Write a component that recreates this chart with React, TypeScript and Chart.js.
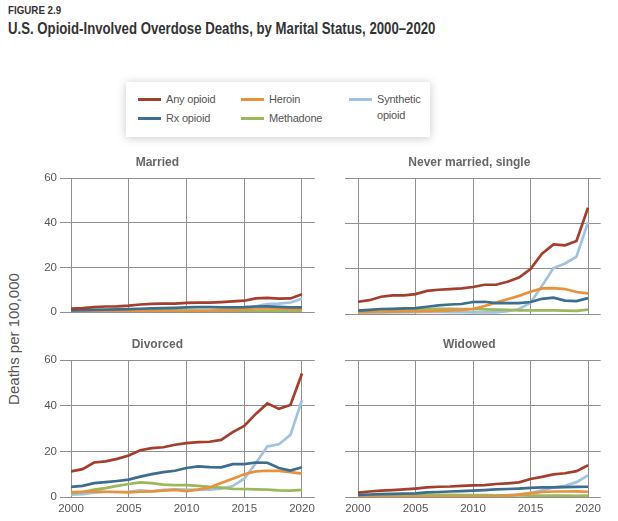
import React, { useEffect, useRef } from "react";
import { Chart, registerables } from "chart.js";

Chart.register(...registerables);

// ---------- data ----------
const years = [2000, 2001, 2002, 2003, 2004, 2005, 2006, 2007, 2008, 2009, 2010, 2011, 2012, 2013, 2014, 2015, 2016, 2017, 2018, 2019, 2020];
const xTickValues = [2000, 2005, 2010, 2015, 2020];
const yTickValues = [0, 20, 40, 60];

const seriesNames = ["Any opioid", "Rx opioid", "Heroin", "Methadone", "Synthetic opioid"];
const seriesColors = ["#a33f2c", "#3d6d8f", "#e9913d", "#9cb85c", "#a1c3e0"];

const panelTitles = ["Married", "Never married, single", "Divorced", "Widowed"];

// Married
const anyMarried = [1.6, 1.8, 2.2, 2.5, 2.6, 2.9, 3.4, 3.7, 3.8, 3.8, 4.1, 4.2, 4.2, 4.5, 4.8, 5.1, 6.1, 6.4, 6.0, 6.1, 8.0];
const rxMarried = [0.8, 0.9, 1.0, 1.1, 1.2, 1.3, 1.5, 1.7, 1.8, 1.9, 2.1, 2.2, 2.2, 2.1, 2.1, 2.2, 2.5, 2.6, 2.3, 2.1, 2.1];
const heroinMarried = [0.2, 0.2, 0.2, 0.2, 0.2, 0.2, 0.3, 0.3, 0.3, 0.3, 0.4, 0.5, 0.6, 0.8, 1.0, 1.3, 1.6, 1.6, 1.5, 1.3, 1.2];
const methadoneMarried = [0.2, 0.3, 0.4, 0.5, 0.6, 0.7, 0.8, 0.8, 0.8, 0.8, 0.7, 0.7, 0.6, 0.6, 0.6, 0.6, 0.5, 0.5, 0.5, 0.5, 0.6];
const syntheticMarried = [0.3, 0.3, 0.3, 0.4, 0.4, 0.4, 0.5, 0.4, 0.4, 0.4, 0.4, 0.4, 0.4, 0.5, 0.7, 1.5, 2.6, 3.6, 3.8, 4.3, 6.0];

// Never married, single
const anyNever = [5.4, 6.1, 7.6, 8.2, 8.2, 8.8, 10.2, 10.7, 11.0, 11.3, 11.9, 12.9, 12.9, 14.2, 16.1, 19.8, 26.6, 30.7, 30.3, 32.2, 46.9];
const rxNever = [1.5, 1.8, 2.2, 2.3, 2.5, 2.6, 3.2, 3.8, 4.2, 4.4, 5.3, 5.4, 4.8, 4.8, 4.8, 5.3, 6.7, 7.2, 5.9, 5.7, 7.0];
const heroinNever = [0.8, 0.9, 1.0, 1.0, 1.1, 1.2, 1.3, 1.4, 1.6, 1.8, 2.2, 3.5, 5.0, 6.5, 8.0, 9.8, 11.3, 11.4, 11.0, 9.7, 9.1];
const methadoneNever = [1.2, 1.3, 1.5, 1.6, 1.8, 1.9, 2.2, 2.3, 2.3, 2.2, 2.2, 2.0, 1.9, 1.8, 1.6, 1.6, 1.6, 1.6, 1.5, 1.4, 1.9];
const syntheticNever = [0.5, 0.5, 0.6, 0.7, 0.7, 0.8, 1.0, 0.9, 0.8, 0.8, 0.7, 0.7, 0.7, 1.2, 2.2, 5.0, 12.5, 20.3, 22.3, 25.3, 40.5];

// Divorced
const anyDivorced = [11.2, 12.2, 15.1, 15.6, 16.7, 18.2, 20.5, 21.4, 21.8, 22.9, 23.6, 24.0, 24.2, 25.0, 28.4, 31.1, 36.4, 41.0, 38.6, 40.3, 54.1];
const rxDivorced = [4.4, 4.9, 6.1, 6.5, 7.0, 7.6, 8.9, 10.0, 10.9, 11.5, 12.7, 13.4, 13.1, 13.0, 14.4, 14.4, 15.1, 15.0, 12.7, 11.6, 13.0];
const heroinDivorced = [2.2, 2.3, 2.5, 2.3, 2.2, 2.0, 2.3, 2.5, 2.8, 3.1, 2.6, 3.2, 4.2, 6.1, 8.0, 10.0, 11.2, 11.5, 11.4, 10.9, 10.2];
const methadoneDivorced = [1.7, 2.2, 3.2, 3.9, 4.9, 5.7, 6.4, 6.1, 5.4, 5.2, 5.2, 4.9, 4.4, 4.1, 3.6, 3.5, 3.3, 3.2, 2.9, 2.8, 3.1];
const syntheticDivorced = [1.0, 1.3, 1.9, 2.2, 2.2, 2.3, 2.9, 2.5, 3.1, 3.3, 3.2, 3.1, 3.2, 3.6, 4.8, 8.0, 14.8, 22.1, 23.1, 27.2, 42.5];

// Widowed
const anyWidowed = [1.9, 2.4, 2.8, 3.0, 3.3, 3.7, 4.2, 4.5, 4.6, 4.9, 5.1, 5.2, 5.7, 6.0, 6.4, 7.9, 8.8, 9.9, 10.4, 11.3, 13.9];
const rxWidowed = [0.9, 1.1, 1.3, 1.4, 1.5, 1.6, 2.0, 2.2, 2.4, 2.6, 2.8, 3.0, 3.3, 3.5, 3.7, 4.0, 4.2, 4.2, 4.3, 4.4, 4.5];
const heroinWidowed = [0.1, 0.1, 0.1, 0.1, 0.1, 0.1, 0.1, 0.1, 0.1, 0.1, 0.1, 0.2, 0.3, 0.5, 1.0, 1.6, 2.2, 2.4, 2.4, 2.5, 2.3];
const methadoneWidowed = [0.3, 0.4, 0.5, 0.6, 0.7, 0.8, 0.9, 0.9, 0.9, 0.8, 0.8, 0.8, 0.7, 0.7, 0.7, 0.6, 0.6, 0.6, 0.6, 0.5, 0.6];
const syntheticWidowed = [0.4, 0.4, 0.4, 0.5, 0.5, 0.5, 0.6, 0.6, 0.6, 0.6, 0.6, 0.6, 0.6, 0.8, 1.1, 1.8, 2.9, 4.2, 4.9, 6.5, 9.5];

const panelSeries = [
  [anyMarried, rxMarried, heroinMarried, methadoneMarried, syntheticMarried],
  [anyNever, rxNever, heroinNever, methadoneNever, syntheticNever],
  [anyDivorced, rxDivorced, heroinDivorced, methadoneDivorced, syntheticDivorced],
  [anyWidowed, rxWidowed, heroinWidowed, methadoneWidowed, syntheticWidowed],
];

// ---------- styling ----------
const FONT = '"Liberation Sans", Arial, Helvetica, sans-serif';
const GRID = "#8f8f8f";
const TICK_COLOR = "#555555";

type PanelProps = {
  title: string;
  values: number[][];
  left: number;
  top: number;
  width: number;
  height: number;
  yAxisWidth: number;
  tickLength: number;
  showX: boolean;
  showY: boolean;
  xAxisHeight: number;
  padRight: number;
};

function Panel(p: PanelProps) {
  const ref = useRef<HTMLCanvasElement | null>(null);
  useEffect(() => {
    if (!ref.current) return;
    const chart = new Chart(ref.current, {
      type: "line",
      data: {
        datasets: seriesNames.map((name, i) => ({
          label: name,
          data: years.map((yr, j) => ({ x: yr, y: p.values[i][j] })),
          borderColor: seriesColors[i],
          backgroundColor: seriesColors[i],
          borderWidth: 2.7,
          pointRadius: 0,
          tension: 0,
          fill: false,
        })),
      },
      options: {
        animation: false,
        responsive: false,
        devicePixelRatio: 1,
        layout: { padding: { left: 0, right: p.padRight, top: 0, bottom: 0 } },
        plugins: {
          legend: { display: false },
          tooltip: { enabled: false },
          title: {
            display: true,
            text: p.title,
            color: "#666666",
            font: { family: FONT, size: 12, weight: "bold", lineHeight: 1.2 },
            padding: { top: 5, bottom: 8.6 },
          },
        },
        scales: {
          x: {
            type: "linear",
            min: 2000,
            max: 2021.1,
            afterBuildTicks: (s: any) => {
              s.ticks = xTickValues.map((v) => ({ value: v }));
            },
            afterFit: (s: any) => {
              s.height = p.xAxisHeight;
            },
            ticks: {
              display: p.showX,
              color: TICK_COLOR,
              font: { family: FONT, size: 11.5 },
              padding: 5,
              maxRotation: 0,
              autoSkip: false,
              callback: (v: any) => String(v),
            },
            grid: { color: GRID, lineWidth: 1, drawTicks: false },
            border: { display: false },
          },
          y: {
            min: 0,
            max: 60,
            afterBuildTicks: (s: any) => {
              s.ticks = yTickValues.map((v) => ({ value: v }));
            },
            afterFit: (s: any) => {
              s.width = p.yAxisWidth;
            },
            ticks: {
              display: p.showY,
              color: TICK_COLOR,
              font: { family: FONT, size: 11.5 },
              padding: 3,
              callback: (v: any) => String(v),
            },
            grid: { color: GRID, lineWidth: 1, drawTicks: true, tickLength: p.tickLength },
            border: { display: false },
          },
        },
      } as any,
    });
    return () => chart.destroy();
  }, []);
  return (
    <canvas
      ref={ref}
      width={p.width}
      height={p.height}
      style={{ position: "absolute", left: p.left, top: p.top, width: p.width, height: p.height }}
    />
  );
}

const legendText: React.CSSProperties = {
  position: "absolute",
  fontFamily: FONT,
  fontSize: 11,
  letterSpacing: -0.2,
  color: "#555555",
  lineHeight: "14px",
  whiteSpace: "nowrap",
};

function LegendItem({ idx, x, y }: { idx: number; x: number; y: number }) {
  const name = seriesNames[idx];
  const lines = name === "Synthetic opioid" ? ["Synthetic", "opioid"] : [name];
  return (
    <>
      <div style={{ position: "absolute", left: x, top: y - 1.5, width: 23, height: 3, background: seriesColors[idx] }} />
      {lines.map((t, k) => (
        <div key={k} style={{ ...legendText, left: x + 28, top: y - 7 + k * 16 }}>
          {t}
        </div>
      ))}
    </>
  );
}

export default function App() {
  return (
    <div style={{ position: "absolute", left: 0, top: 0, width: 618, height: 521, background: "#ffffff", overflow: "hidden" }}>
      <div style={{ position: "absolute", left: 8, top: 5, fontFamily: FONT, fontWeight: "bold", fontSize: 10.5, lineHeight: "11px", color: "#333333", whiteSpace: "nowrap", transform: "scaleX(0.93)", transformOrigin: "0 0" }}>
        FIGURE 2.9
      </div>
      <div
        style={{
          position: "absolute",
          left: 8,
          top: 20,
          fontFamily: FONT,
          fontWeight: "bold",
          fontSize: 17,
          lineHeight: "17px",
          color: "#333333",
          whiteSpace: "nowrap",
          transform: "scaleX(0.776)",
          transformOrigin: "0 0",
        }}
      >
        U.S. Opioid-Involved Overdose Deaths, by Marital Status, 2000–2020
      </div>

      <div
        style={{
          position: "absolute",
          left: 126,
          top: 82,
          width: 304,
          height: 55,
          background: "#ffffff",
          boxShadow: "0 1px 9px rgba(0,0,0,0.22)",
        }}
      >
        <LegendItem idx={0} x={12} y={17} />
        <LegendItem idx={1} x={12} y={36} />
        <LegendItem idx={2} x={115} y={17} />
        <LegendItem idx={3} x={115} y={36} />
        <LegendItem idx={4} x={223} y={17} />
      </div>

      <div
        style={{
          position: "absolute",
          left: 14,
          top: 339,
          transform: "translate(-50%, -50%) rotate(-90deg)",
          fontFamily: FONT,
          fontSize: 15,
          lineHeight: "16px",
          color: "#555555",
          whiteSpace: "nowrap",
        }}
      >
        Deaths per 100,000
      </div>

      <Panel title={panelTitles[0]} values={panelSeries[0]} left={0} top={150} width={325} height={172} yAxisWidth={71} tickLength={11} showX={false} showY={true} xAxisHeight={8} padRight={10.3} />
      <Panel title={panelTitles[1]} values={panelSeries[1]} left={338} top={150} width={273} height={172} yAxisWidth={20} tickLength={13} showX={false} showY={false} xAxisHeight={8} padRight={10.35} />
      <Panel title={panelTitles[2]} values={panelSeries[2]} left={0} top={332} width={325} height={189} yAxisWidth={71} tickLength={11} showX={true} showY={true} xAxisHeight={24} padRight={10.3} />
      <Panel title={panelTitles[3]} values={panelSeries[3]} left={338} top={332} width={273} height={189} yAxisWidth={20} tickLength={13} showX={true} showY={false} xAxisHeight={24} padRight={10.35} />
    </div>
  );
}
